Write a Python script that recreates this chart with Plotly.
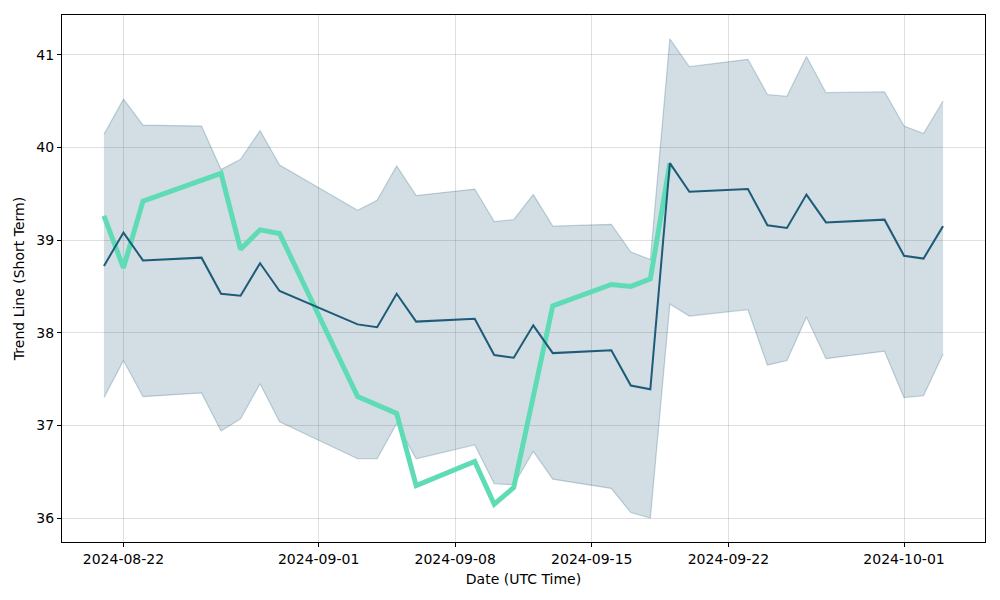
import plotly.graph_objects as go

dates = ["2024-08-21", "2024-08-22", "2024-08-23", "2024-08-26", "2024-08-27", "2024-08-28",
         "2024-08-29", "2024-08-30", "2024-09-03", "2024-09-04", "2024-09-05", "2024-09-06",
         "2024-09-09", "2024-09-10", "2024-09-11", "2024-09-12", "2024-09-13", "2024-09-16",
         "2024-09-17", "2024-09-18", "2024-09-19", "2024-09-20", "2024-09-23", "2024-09-24",
         "2024-09-25", "2024-09-26", "2024-09-27", "2024-09-30", "2024-10-01", "2024-10-02",
         "2024-10-03"]

trend = [38.72, 39.08, 38.78, 38.81, 38.42, 38.40, 38.75, 38.45, 38.09, 38.06, 38.42, 38.12,
         38.15, 37.76, 37.73, 38.08, 37.78, 37.81, 37.43, 37.39, 39.83, 39.52, 39.55, 39.16,
         39.13, 39.49, 39.19, 39.22, 38.83, 38.80, 39.15]

upper = [40.14, 40.52, 40.24, 40.23, 39.76, 39.87, 40.18, 39.81, 39.32, 39.43, 39.80, 39.48,
         39.55, 39.20, 39.22, 39.49, 39.15, 39.17, 38.87, 38.79, 41.17, 40.87, 40.95, 40.57,
         40.55, 40.98, 40.59, 40.60, 40.23, 40.15, 40.50]

lower = [37.30, 37.70, 37.31, 37.35, 36.94, 37.07, 37.45, 37.04, 36.64, 36.64, 37.02, 36.64,
         36.79, 36.37, 36.36, 36.72, 36.42, 36.32, 36.06, 36.00, 38.31, 38.18, 38.25, 37.65,
         37.70, 38.17, 37.72, 37.80, 37.30, 37.32, 37.77]

price = [39.26, 38.70, 39.42, None, 39.72, 38.90, 39.11, 39.07, 37.31, None, 37.13, 36.35,
         36.61, 36.15, 36.33, None, 38.29, 38.52, 38.50, 38.58, 39.83]
price_dates = dates[:len(price)]

x_ticks = ["2024-08-22", "2024-09-01", "2024-09-08", "2024-09-15", "2024-09-22", "2024-10-01"]

band_line = "rgba(29,91,121,0.25)"
fig = go.Figure()
fig.add_trace(go.Scatter(x=dates, y=upper, mode="lines", line=dict(color=band_line, width=1.2),
                         showlegend=False, hoverinfo="skip"))
fig.add_trace(go.Scatter(x=dates, y=lower, mode="lines", line=dict(color=band_line, width=1.2),
                         fill="tonexty", fillcolor="rgba(29,91,121,0.2)",
                         showlegend=False, hoverinfo="skip"))
fig.add_trace(go.Scatter(x=price_dates, y=price, mode="lines", connectgaps=True,
                         line=dict(color="#5fdcb5", width=5), showlegend=False))
fig.add_trace(go.Scatter(x=dates, y=trend, mode="lines",
                         line=dict(color="#1d5b79", width=2), showlegend=False))

axis_common = dict(showline=True, linecolor="black", linewidth=1, mirror=True,
                   ticks="outside", ticklen=4, tickcolor="black", automargin=False,
                   showgrid=True, gridcolor="rgba(176,176,176,0.4)", gridwidth=1,
                   zeroline=False, tickfont=dict(size=14, color="black"))

fig.update_layout(
    width=1000, height=600,
    margin=dict(l=54, r=23, t=7, b=66),
    paper_bgcolor="white", plot_bgcolor="white",
    font=dict(family="DejaVu Sans", size=14, color="black"),
    xaxis=dict(range=["2024-08-18 20:24", "2024-10-05 03:36"], tickvals=x_ticks,
               ticktext=x_ticks, title=dict(text="Date (UTC Time)", standoff=8,
                                            font=dict(size=14)), **axis_common),
    yaxis=dict(range=[35.742, 41.428], tickvals=[36, 37, 38, 39, 40, 41],
               title=dict(text="Trend Line (Short Term)", standoff=8, font=dict(size=14)),
               **axis_common),
)

fig.write_html("out.html")
